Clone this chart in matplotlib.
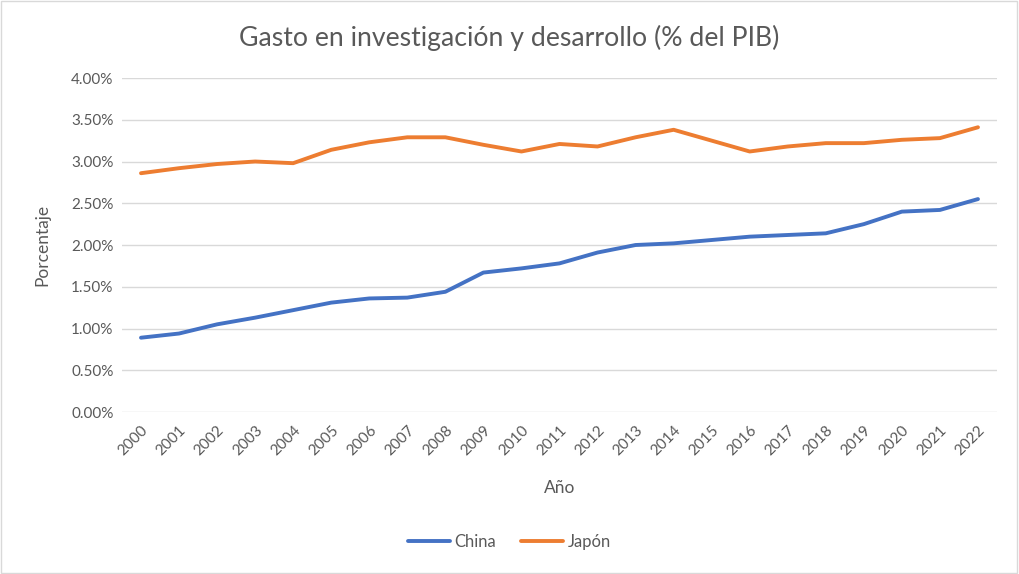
import numpy as np
import matplotlib.pyplot as plt
from matplotlib.ticker import PercentFormatter
from matplotlib.patches import Rectangle

plt.rcParams['font.family'] = ['Lato', 'DejaVu Sans']

years = [str(y) for y in range(2000, 2023)]
china = [0.89, 0.94, 1.05, 1.13, 1.22, 1.31, 1.36, 1.37, 1.44, 1.67, 1.72, 1.78,
         1.91, 2.00, 2.02, 2.06, 2.10, 2.12, 2.14, 2.25, 2.40, 2.42, 2.55]
japon = [2.86, 2.92, 2.97, 3.00, 2.98, 3.14, 3.23, 3.29, 3.29, 3.20, 3.12, 3.21,
         3.18, 3.29, 3.38, 3.25, 3.12, 3.18, 3.22, 3.22, 3.26, 3.28, 3.41]

txt = '#595959'
fig = plt.figure(figsize=(10.19, 5.74), dpi=100)
fig.patches.append(Rectangle((0.001, 0.002), 0.997, 0.996, transform=fig.transFigure,
                             fill=False, edgecolor='#D9D9D9', linewidth=1))
ax = fig.add_axes([0.1197, 0.2822, 0.8587, 0.5819])

x = np.arange(len(years))
ax.plot(x, china, color='#4472C4', linewidth=2.8, label='China', solid_capstyle='round')
ax.plot(x, japon, color='#ED7D31', linewidth=2.8, label='Japón', solid_capstyle='round')

ax.set_xlim(-0.5, len(years) - 0.5)
ax.set_ylim(0, 4)
ax.set_yticks(np.arange(0, 4.01, 0.5))
ax.yaxis.set_major_formatter(PercentFormatter(decimals=2))
ax.set_xticks(x)
ax.set_xticklabels(years, rotation=45, ha='right', rotation_mode='anchor')
ax.tick_params(axis='both', length=0, labelsize=11, colors=txt, pad=6)
ax.tick_params(axis='x', pad=8)
ax.grid(axis='y', color='#D9D9D9', linewidth=1)
ax.set_axisbelow(True)
for s in ax.spines.values():
    s.set_visible(False)

fig.text(0.5, 0.934, 'Gasto en investigación y desarrollo (% del PIB)', fontsize=19.2,
         color=txt, ha='center', va='center')
ax.set_ylabel('Porcentaje', fontsize=12.5, color=txt, labelpad=15)
ax.set_xlabel('Año', fontsize=12.5, color=txt, labelpad=16)

fig.legend(loc='center', bbox_to_anchor=(0.5, 0.056), ncol=2, frameon=False,
           fontsize=12, labelcolor=txt, handlelength=2.5, columnspacing=1.5, handletextpad=0.3)

fig.savefig('out.png', dpi=100)
